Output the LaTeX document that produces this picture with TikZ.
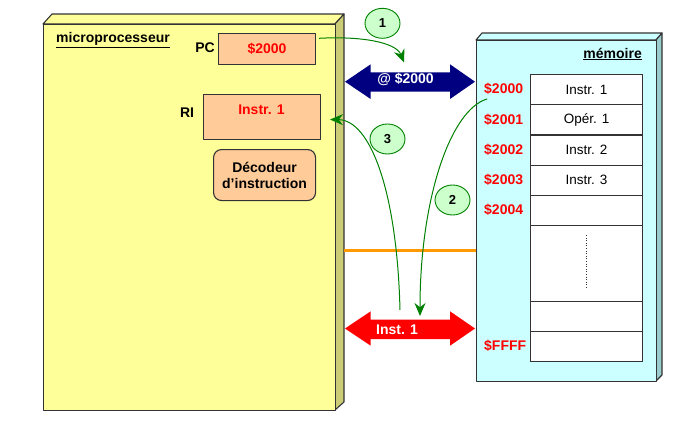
\documentclass[tikz,border=0pt]{standalone}
\usepackage{fontspec}
\setmainfont{Liberation Sans}
\usetikzlibrary{shapes.geometric,arrows.meta}
\definecolor{yfront}{RGB}{255,255,153}
\definecolor{yside}{RGB}{204,204,119}
\definecolor{cfront}{RGB}{204,255,255}
\definecolor{cside}{RGB}{153,204,204}
\definecolor{peach}{RGB}{255,204,153}
\definecolor{gfill}{RGB}{204,255,204}
\definecolor{gline}{RGB}{0,128,0}
\definecolor{edgec}{RGB}{51,51,51}
\definecolor{navyc}{RGB}{0,0,128}
\definecolor{orng}{RGB}{255,153,0}
\begin{document}
\begin{tikzpicture}[x=1pt,y=-1pt,
  bfont/.style={font=\fontsize{14}{16}\selectfont\bfseries},
  rfont/.style={font=\fontsize{13.5}{16}\selectfont},
  face/.style={draw=edgec,line width=1.1pt,line join=round},
  reg/.style={face,fill=peach,anchor=north west,inner sep=0pt},
  cell/.style={draw=edgec,line width=1.1pt,fill=white,anchor=north west,minimum width=111.5pt,inner sep=0pt,rfont},
  addr/.style={bfont,text=red,anchor=west,inner sep=0pt},
  step num/.style={ellipse,draw=gline,fill=gfill,line width=0.9pt,minimum width=35pt,minimum height=30pt,inner sep=0pt,font=\fontsize{13}{15}\selectfont\bfseries},
  flow/.style={draw=gline,line width=1pt,-{Stealth[length=13pt,width=11pt]}}]
\useasboundingbox (0,0) rectangle (696,426);
% microprocessor block
\fill[yfront] (43,24) -- (52,14) -- (344,14) -- (335,24) -- cycle;
\draw[face,fill=yfront] (43,24) -- (52,14) -- (344,14) -- (335,24) -- cycle;
\draw[face,fill=yside] (335,24) -- (344,14) -- (344,402) -- (335,410) -- cycle;
\node[face,fill=yfront,anchor=north west,minimum width=292pt,minimum height=386pt,inner sep=0pt] (micro) at (43,24) {};
\node[bfont,anchor=west,inner sep=0pt] (microlbl) at (56,40) {\underline{microprocesseur}};
% memory block
\draw[face,fill=cfront] (476,40) -- (482,33) -- (662,33) -- (656,40) -- cycle;
\draw[face,fill=cside] (656,40) -- (662,33) -- (662,375) -- (656,381) -- cycle;
\node[face,fill=cfront,anchor=north west,minimum width=180pt,minimum height=341pt,inner sep=0pt] (mem) at (476,40) {};
\node[bfont,anchor=east,inner sep=0pt] (memlbl) at (642,54) {\underline{mémoire}};
% registers
\node[bfont,inner sep=0pt] (pclbl) at (205,48) {PC};
\node[reg,minimum width=97pt,minimum height=31pt,bfont,text=red] (pc) at (218,33) {\$2000};
\node[bfont,inner sep=0pt] (rilbl) at (187,113) {RI};
\node[reg,minimum width=117pt,minimum height=45pt] (ri) at (203,94) {};
\node[bfont,text=red,inner sep=0pt] (ritxt) at (261.5,110) {Instr. 1};
\node[reg,rounded corners=8pt,minimum width=102pt,minimum height=51pt,bfont,align=center] (dec) at (213,149) {Décodeur\\d’instruction};
% memory cells
\node[cell,minimum height=30.2pt] (c0) at (530.3,74) {Instr. 1};
\node[cell,minimum height=30.2pt] (c1) at (530.3,104.2) {Opér. 1};
\node[cell,minimum height=30.2pt] (c2) at (530.3,134.4) {Instr. 2};
\node[cell,minimum height=30.2pt] (c3) at (530.3,164.6) {Instr. 3};
\node[cell,minimum height=30.2pt] (c4) at (530.3,194.8) {};
\node[cell,minimum height=75.5pt] (c5) at (530.3,225) {};
\node[cell,minimum height=30.3pt] (c6) at (530.3,300.5) {};
\node[cell,minimum height=30.3pt] (c7) at (530.3,330.8) {};
\draw[edgec,dotted,line width=0.6pt] (586,235) -- (586,289);
% addresses
\node[addr] (a0) at (484,89.3) {\$2000};
\node[addr] (a1) at (484,119.5) {\$2001};
\node[addr] (a2) at (484,149.6) {\$2002};
\node[addr] (a3) at (484,179.7) {\$2003};
\node[addr] (a4) at (484,210) {\$2004};
\node[addr] (af) at (484,346) {\$FFFF};
% buses
\fill[navyc] (345,81.7) -- (370.7,64.3) -- (370.7,72.3) -- (450,72.3) -- (450,64.3) -- (475,81.7) -- (450,99) -- (450,91.7) -- (370.7,91.7) -- (370.7,99) -- cycle;
\node[bfont,text=white,inner sep=0pt] (abus) at (405.5,79.5) {@ \$2000};
\draw[orng,line width=3pt] (344,250) -- (476,250);
\fill[red] (345,328.5) -- (370.7,311.3) -- (370.7,319.7) -- (450,319.7) -- (450,311.3) -- (475,328.5) -- (450,345.7) -- (450,339) -- (370.7,339) -- (370.7,345.7) -- cycle;
\node[bfont,text=white,inner sep=0pt] (dbus) at (397,329.5) {Inst. 1};
% steps
\coordinate (s1) at (319,38.3);
\coordinate (e1) at (404,62.5);
\draw[flow] (s1) .. controls (360,36) and (396,42) .. (e1);
\coordinate (s2) at (487,99);
\coordinate (e2) at (420,316);
\draw[flow] (s2) .. controls (450,110) and (420,200) .. (e2);
\coordinate (s3) at (400,310);
\coordinate (e3) at (330,119.5);
\draw[flow] (s3) .. controls (397,190) and (370,120) .. (e3);
\node[step num] (n1) at (382.5,23.3) {1};
\node[step num] (n3) at (387.5,139) {3};
\node[step num] (n2) at (452.5,200) {2};
\end{tikzpicture}
\end{document}
